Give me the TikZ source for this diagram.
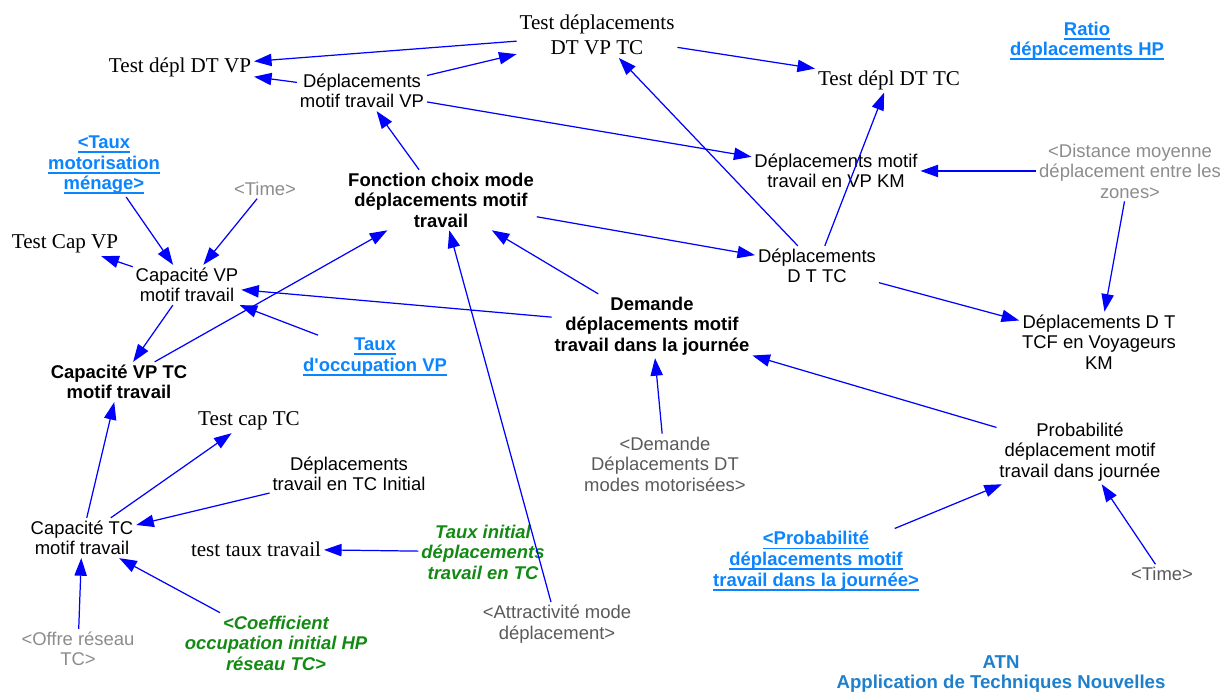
\documentclass[tikz,border=0pt]{standalone}
\usepackage{fontspec}
\setmainfont{Liberation Serif}
\setsansfont{Liberation Sans}
\usetikzlibrary{arrows.meta}
\definecolor{flow}{HTML}{0000FF}
\definecolor{lnkblue}{HTML}{0A84FF}
\definecolor{cgreen}{HTML}{138A13}
\definecolor{ghost}{HTML}{8C8C8C}
\definecolor{ghostdk}{HTML}{5A5A5A}
\definecolor{atnblue}{HTML}{1E80CC}
\newcommand{\ulnk}[1]{\setbox0\hbox{#1}\rlap{\rule[-2.5pt]{\wd0}{1pt}}\box0}

\begin{document}
\begin{tikzpicture}[
  var/.style={font=\sffamily\fontsize{10.5}{11.7}\selectfont,align=center,inner sep=1.5pt},
  bvar/.style={var,font=\sffamily\bfseries\fontsize{10.5}{11.7}\selectfont},
  test/.style={font=\fontsize{12}{14.2}\selectfont,align=center,inner sep=1.5pt},
  shadow/.style={var,text=ghost},
  shadowdk/.style={var,text=ghostdk},
  linkvar/.style={bvar,text=lnkblue},
  given/.style={var,font=\sffamily\bfseries\itshape\fontsize{10.5}{11.7}\selectfont,text=cgreen},
  lk/.style={flow,line width=0.7pt,-{Triangle[length=10pt,width=7pt]}}]
  \useasboundingbox (0,0) rectangle (24.5,13.84);

  % tests on top
  \node[test] (testdt) at (11.94,13.14) {Test déplacements\\DT VP TC};
  \node[test] (testvp) at (3.60,12.50) {Test dépl DT VP};
  \node[test] (testtc) at (17.78,12.24) {Test dépl DT TC};
  \node[linkvar] (ratio) at (21.74,13.02) {\ulnk{Ratio}\\\ulnk{déplacements HP}};

  % mode choice part
  \node[var] (deplvp) at (7.24,12.02) {Déplacements\\motif travail VP};
  \node[var] (deplvpkm) at (16.72,10.42) {Déplacements motif\\travail en VP KM};
  \node[shadow] (distance) at (22.60,10.42) {<Distance moyenne\\déplacement entre les\\zones>};
  \node[bvar] (fonction) at (8.82,9.84) {Fonction choix mode\\déplacements motif\\travail};
  \node[var] (depldttc) at (16.34,8.52) {Déplacements\\D T TC};
  \node[bvar] (demande) at (13.04,7.32) {Demande\\déplacements motif\\travail dans la journée};
  \node[var] (deplkm) at (21.98,7.00) {Déplacements D T\\TCF en Voyageurs\\KM};
  \node[shadowdk] (demandedt) at (13.30,4.56) {<Demande\\Déplacements DT\\modes motorisées>};
  \node[var] (proba) at (21.60,4.80) {Probabilité\\déplacement motif\\travail dans journée};
  \node[linkvar] (probaj) at (16.32,2.62) {\ulnk{<Probabilité}\\\ulnk{déplacements motif}\\\ulnk{travail dans la journée>}};
  \node[shadowdk] (time2) at (23.24,2.36) {<Time>};
  \node[shadowdk] (attract) at (11.14,1.36) {<Attractivité mode\\déplacement>};

  % capacities on the left
  \node[linkvar] (tauxmoto) at (2.08,10.54) {\ulnk{<Taux}\\\ulnk{motorisation}\\\ulnk{ménage>}};
  \node[shadow] (time1) at (5.30,10.06) {<Time>};
  \node[test] (testcapvp) at (1.30,8.96) {Test Cap VP};
  \node[var] (capvp) at (3.74,8.14) {Capacité VP\\motif travail};
  \node[linkvar] (tauxocc) at (7.50,6.70) {\ulnk{Taux}\\\ulnk{d\textquotesingle occupation VP}};
  \node[bvar] (capvptc) at (2.38,6.20) {Capacité VP TC\\motif travail};
  \node[test] (testcaptc) at (4.98,5.42) {Test cap TC};
  \node[var] (depltcinit) at (6.98,4.36) {Déplacements\\travail en TC Initial};
  \node[var] (captc) at (1.64,3.08) {Capacité TC\\motif travail};
  \node[test] (testtaux) at (5.12,2.86) {test taux travail};
  \node[given] (tauxinit) at (9.66,2.80) {Taux initial\\déplacements\\travail en TC};
  \node[shadow] (offre) at (1.56,0.86) {<Offre réseau\\TC>};
  \node[given] (coeff) at (5.52,0.98) {<Coefficient\\occupation initial HP\\réseau TC>};

  \node[font=\sffamily\bfseries\fontsize{10.6}{11.7}\selectfont,text=atnblue,align=center] (atn) at (20.02,0.36) {ATN\\Application de Techniques Nouvelles};

  % links
  \draw[lk] (testdt) -- (testvp);
  \draw[lk] (deplvp) -- (testvp);
  \draw[lk] (deplvp) -- (testdt);
  \draw[lk] (testdt) -- (testtc);
  \draw[lk] (deplvp) -- (deplvpkm);
  \draw[lk] (depldttc) -- (testdt);
  \draw[lk] (depldttc) -- (testtc);
  \draw[lk] (distance) -- (deplvpkm);
  \draw[lk] (distance) -- (deplkm);
  \draw[lk] (fonction) -- (deplvp);
  \draw[lk] (fonction) -- (depldttc);
  \draw[lk] (depldttc) -- (deplkm);
  \draw[lk] (demande) -- (fonction);
  \draw[lk] (demande) -- (capvp);
  \draw[lk] (attract) -- (fonction);
  \draw[lk] (capvptc) -- (fonction);
  \draw[lk] (tauxmoto) -- (capvp);
  \draw[lk] (time1) -- (capvp);
  \draw[lk] (capvp) -- (testcapvp);
  \draw[lk] (capvp) -- (capvptc);
  \draw[lk] (tauxocc) -- (capvp);
  \draw[lk] (demandedt) -- (demande);
  \draw[lk] (proba) -- (demande);
  \draw[lk] (captc) -- (capvptc);
  \draw[lk] (captc) -- (testcaptc);
  \draw[lk] (depltcinit) -- (captc);
  \draw[lk] (tauxinit) -- (testtaux);
  \draw[lk] (coeff) -- (captc);
  \draw[lk] (offre) -- (captc);
  \draw[lk] (probaj) -- (proba);
  \draw[lk] (time2) -- (proba);
\end{tikzpicture}
\end{document}
